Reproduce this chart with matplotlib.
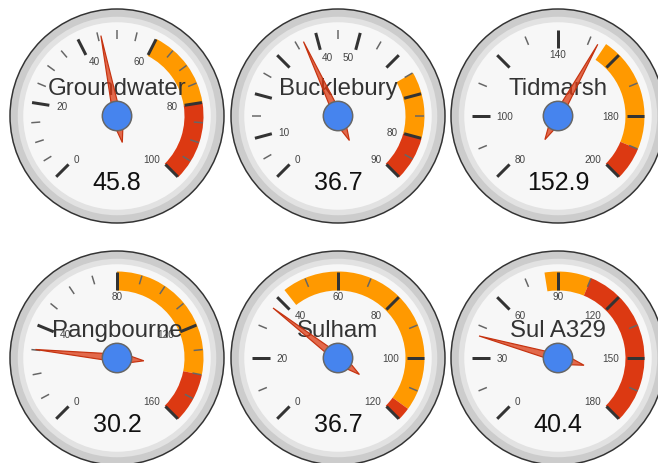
import numpy as np
import matplotlib.pyplot as plt
from matplotlib.patches import Circle, Wedge, Polygon

# gauge data
names = ['Groundwater', 'Bucklebury', 'Tidmarsh', 'Pangbourne', 'Sulham', 'Sul A329']
values = [45.8, 36.7, 152.9, 30.2, 36.7, 40.4]
mins = [0, 0, 80, 0, 0, 0]
maxs = [100, 90, 200, 160, 120, 180]
yellow_from = [60, 65, 155, 80, 43, 84]
yellow_to = [80, 80, 190, 140, 116, 105]
red_from = [80, 80, 190, 140, 116, 105]
red_to = [100, 90, 200, 160, 120, 180]
major_labels = [
  ['0', '20', '40', '60', '80', '100'],
  ['0', '10', '', '', '40', '50', '', '', '80', '90'],
  ['80', '100', '', '140', '', '180', '200'],
  ['0', '40', '80', '120', '160'],
  ['0', '20', '40', '60', '80', '100', '120'],
  ['0', '30', '60', '90', '120', '150', '180'],
]
minor_ticks = [4, 2, 2, 4, 2, 2]

W, H = 658, 464
col_x = [117, 338, 558]
row_y = [117, 359]
R = 107

FONT = ['Liberation Sans', 'DejaVu Sans']
PT = 0.72  # points per pixel at dpi 100


def angle(v, vmin, vmax):
  # degrees clockwise from straight up
  return -135 + 270 * (v - vmin) / (vmax - vmin)


def pt(cx, cy, r, t):
  a = np.radians(90 - t)
  return cx + r * np.cos(a), cy + r * np.sin(a)


def band(ax, cx, cy, v1, v2, vmin, vmax, color):
  if v2 <= v1:
    return
  a1 = 90 - angle(v1, vmin, vmax)
  a2 = 90 - angle(v2, vmin, vmax)
  ax.add_patch(Wedge((cx, cy), 86.5, a2, a1, width=19, facecolor=color,
                     edgecolor='none', zorder=3))


def draw_gauge(ax, i, cx, cy):
  vmin, vmax = mins[i], maxs[i]
  ax.add_patch(Circle((cx, cy), R, facecolor='#cccccc', edgecolor='#333333',
                      lw=1.5 * PT, zorder=1))
  ax.add_patch(Circle((cx, cy), 96.5, facecolor='#f7f7f7', edgecolor='#e2e2e2',
                      lw=5.5 * PT, zorder=2))

  band(ax, cx, cy, yellow_from[i], yellow_to[i], vmin, vmax, '#ff9900')
  band(ax, cx, cy, red_from[i], red_to[i], vmin, vmax, '#dc3912')

  labels = major_labels[i]
  n_major = len(labels) - 1
  n_minor = minor_ticks[i]
  step = (vmax - vmin) / n_major
  for k in range(n_major):
    for m in range(1, n_minor):
      v = vmin + step * (k + m / n_minor)
      t = angle(v, vmin, vmax)
      x1, y1 = pt(cx, cy, 77, t)
      x2, y2 = pt(cx, cy, 86, t)
      ax.plot([x1, x2], [y1, y2], color='#666666', lw=1.5 * PT,
              solid_capstyle='butt', zorder=4)
  for k, lab in enumerate(labels):
    v = vmin + step * k
    t = angle(v, vmin, vmax)
    x1, y1 = pt(cx, cy, 68.5, t)
    x2, y2 = pt(cx, cy, 86, t)
    ax.plot([x1, x2], [y1, y2], color='#333333', lw=3 * PT,
            solid_capstyle='butt', zorder=4)
    if lab:
      lx, ly = pt(cx, cy, 61.5, t)
      ha = 'left' if t < -1 else ('right' if t > 1 else 'center')
      ax.text(lx, ly, lab, ha=ha, va='center', fontsize=10 * PT,
              color='#444444', family=FONT, zorder=5)

  ax.text(cx, cy + 22, names[i], ha='center', va='baseline',
          fontsize=24 * PT, color='#333333', family=FONT, zorder=6)
  ax.text(cx, cy - 73.5, f"{values[i]:.1f}", ha='center', va='baseline',
          fontsize=25 * PT, color='#111111', family=FONT, zorder=6)

  t = angle(values[i], vmin, vmax)
  a = np.radians(90 - t)
  d = np.array([np.cos(a), np.sin(a)])
  p = np.array([-np.sin(a), np.cos(a)])
  c = np.array([cx, cy])
  needle = [c + 82 * d, c - 9 * d + 4.3 * p, c - 27 * d, c - 9 * d - 4.3 * p]
  ax.add_patch(Polygon(needle, closed=True, facecolor='#dc3912', alpha=0.75,
                       edgecolor='none', zorder=7))
  ax.add_patch(Polygon(needle, closed=True, facecolor='none',
                       edgecolor='#c63310', lw=1.2 * PT, zorder=7))

  ax.add_patch(Circle((cx, cy), 14.7, facecolor='#4684ee', edgecolor='#666666',
                      lw=1.5 * PT, zorder=8))


def main():
  fig = plt.figure(figsize=(W / 100, H / 100), dpi=100)
  ax = fig.add_axes([0, 0, 1, 1])
  ax.set_xlim(0, W)
  ax.set_ylim(0, H)
  ax.set_aspect('equal')
  ax.axis('off')

  for i in range(len(names)):
    cx = col_x[i % 3]
    cy = H - row_y[i // 3]
    draw_gauge(ax, i, cx, cy)

  fig.savefig('out.png', dpi=100, facecolor='white')


if __name__ == "__main__":
  main()
